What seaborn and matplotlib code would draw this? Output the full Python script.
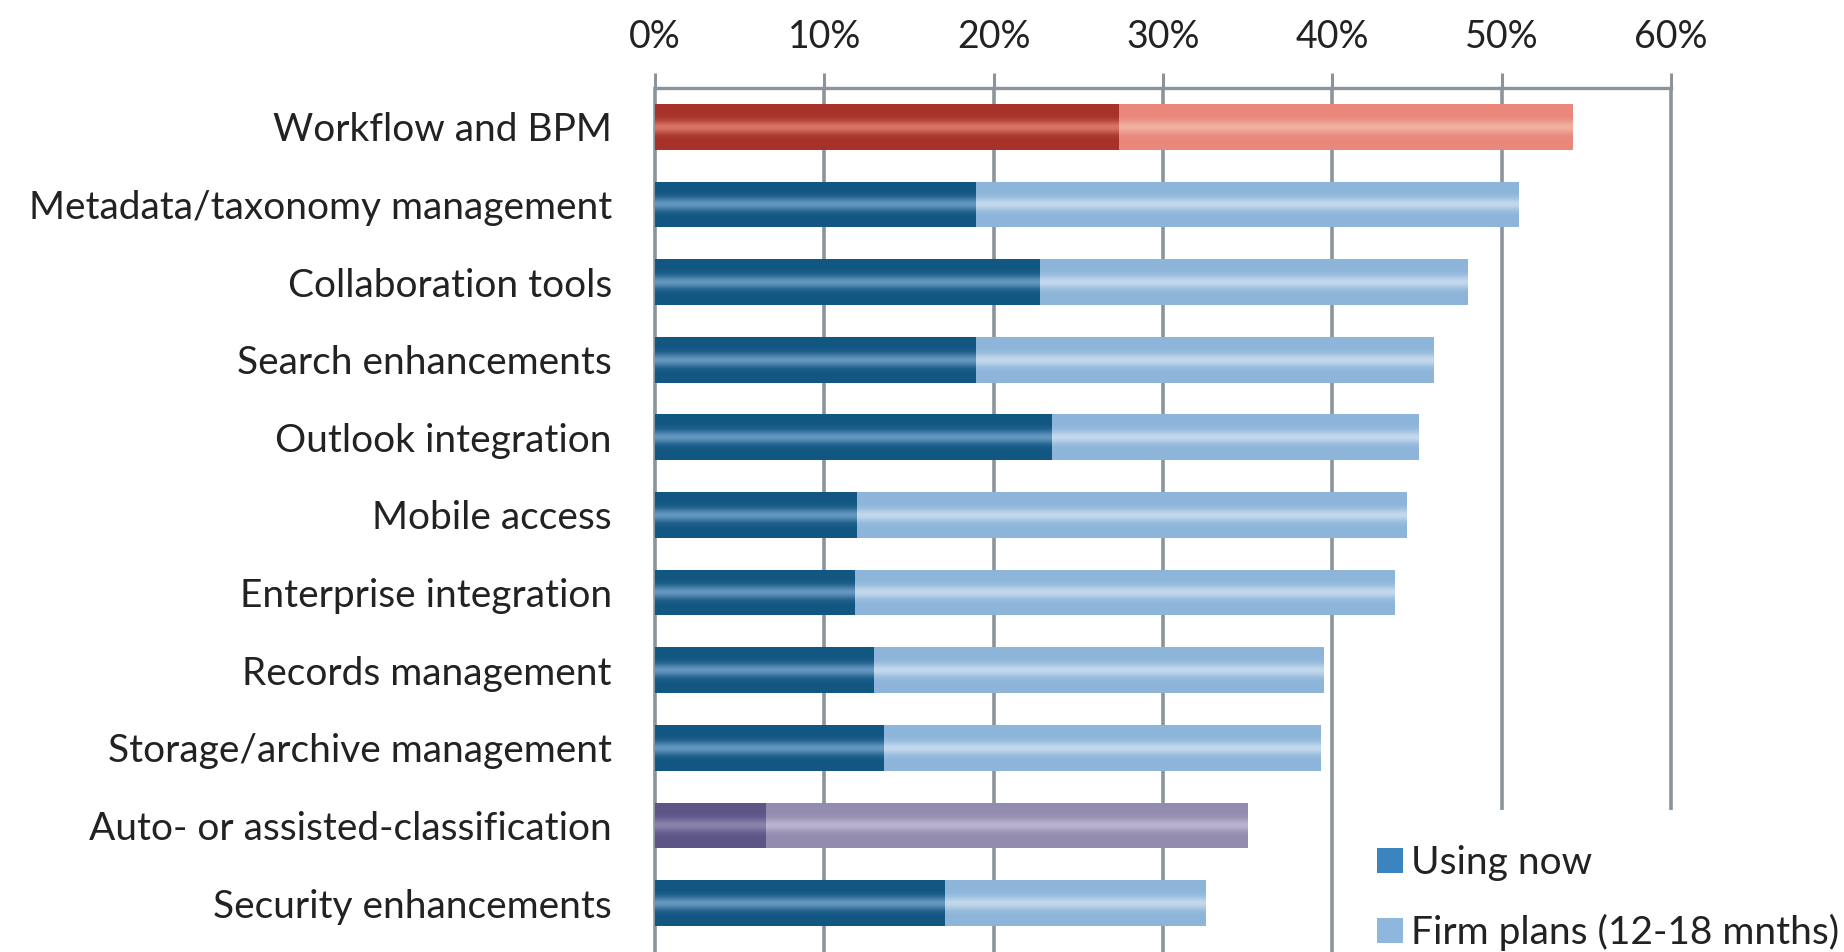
import numpy as np
import pandas as pd
import matplotlib
matplotlib.use('Agg')
import matplotlib.pyplot as plt
from matplotlib.colors import to_rgb
from matplotlib.patches import Patch
import seaborn as sns

# Dados (% de respondentes)
categorias = [
    'Workflow and BPM',
    'Metadata/taxonomy management',
    'Collaboration tools',
    'Search enhancements',
    'Outlook integration',
    'Mobile access',
    'Enterprise integration',
    'Records management',
    'Storage/archive management',
    'Auto- or assisted-classification',
    'Security enhancements',
]
usando_agora = [27.4, 18.9, 22.7, 18.9, 23.4, 11.9, 11.8, 12.9, 13.5, 6.5, 17.1]
planos_firmes = [26.8, 32.1, 25.3, 27.1, 21.7, 32.5, 31.9, 26.6, 25.8, 28.5, 15.4]
ticks_x = [0, 10, 20, 30, 40, 50, 60]
legenda = ['Using now', 'Firm plans (12-18 mnths)']

# Cores (base, brilho) por família de barra
RED_DARK, RED_DARK_HI = '#a6322a', '#e07a6c'
RED_LIGHT, RED_LIGHT_HI = '#e8877a', '#f2b4a4'
BLUE_DARK, BLUE_DARK_HI = '#125782', '#6e9ec7'
BLUE_LIGHT, BLUE_LIGHT_HI = '#8db5da', '#c8dcee'
PURP_DARK, PURP_DARK_HI = '#5e5587', '#8f88b0'
PURP_LIGHT, PURP_LIGHT_HI = '#948cae', '#beb8d3'

def cores_linha(cat):
    if cat == 'Workflow and BPM':
        return (RED_DARK, RED_DARK_HI), (RED_LIGHT, RED_LIGHT_HI)
    if cat.startswith('Auto-'):
        return (PURP_DARK, PURP_DARK_HI), (PURP_LIGHT, PURP_LIGHT_HI)
    return (BLUE_DARK, BLUE_DARK_HI), (BLUE_LIGHT, BLUE_LIGHT_HI)

GRID = '#8b939b'
TEXT = '#222222'
FS = 28

df = pd.DataFrame({'categoria': categorias,
                   'usando': usando_agora,
                   'planos': planos_firmes})
df['total'] = df['usando'] + df['planos']

sns.set_style('white')
plt.rcParams['font.family'] = ['Lato', 'DejaVu Sans']

W, H = 1844, 952
fig = plt.figure(figsize=(W / 100, H / 100), dpi=100)
ax = fig.add_axes([655 / W, 0, (1671 - 655) / W, 1 - 88 / H])

escuras = [cores_linha(c)[0][0] for c in categorias]
claras = [cores_linha(c)[1][0] for c in categorias]

sns.barplot(data=df, y='categoria', x='total', hue='categoria', palette=claras,
            legend=False, width=0.59, ax=ax, linewidth=0, saturation=1)
sns.barplot(data=df, y='categoria', x='usando', hue='categoria', palette=escuras,
            legend=False, width=0.59, ax=ax, linewidth=0, saturation=1)


def brilho(ax, patch, base, hi):
    """Gradiente vertical com faixa clara no centro da barra"""
    t = np.linspace(0, 1, 64)
    f = np.exp(-((t - 0.5) / 0.14) ** 2) * 0.9
    b, h = np.array(to_rgb(base)), np.array(to_rgb(hi))
    img = (b[None, :] * (1 - f[:, None]) + h[None, :] * f[:, None])[:, None, :]
    x0, y0 = patch.get_x(), patch.get_y()
    w, hgt = patch.get_width(), patch.get_height()
    im = ax.imshow(img, extent=(x0, x0 + w, y0 + hgt, y0), aspect='auto',
                   zorder=patch.get_zorder() + 0.01, interpolation='bilinear')
    im.set_clip_path(patch)


n = len(categorias)
patches = list(ax.patches)
for i, cat in enumerate(categorias):
    (dk, dk_hi), (lt, lt_hi) = cores_linha(cat)
    brilho(ax, patches[i], lt, lt_hi)
    brilho(ax, patches[n + i], dk, dk_hi)

ax.set_xlim(0, 60)
ax.set_ylim(10.63, -0.5)
ax.set_xlabel('')
ax.set_ylabel('')

ax.xaxis.tick_top()
ax.set_xticks(ticks_x)
ax.set_xticklabels([f'{v}%' for v in ticks_x])
ax.tick_params(axis='x', which='major', direction='out', length=11, width=2.2,
               color=GRID, pad=13, labelsize=27, labelcolor=TEXT)
ax.tick_params(axis='y', length=0, pad=31, labelsize=FS, labelcolor=TEXT)

ax.grid(axis='x', color=GRID, linewidth=2.6)
ax.grid(axis='y', visible=False)
ax.set_axisbelow(True)
for gl in ax.get_xgridlines():
    gl.set_clip_on(False)

for lado in ['left', 'right', 'bottom']:
    ax.spines[lado].set_visible(False)
ax.spines['top'].set_color(GRID)
ax.spines['top'].set_linewidth(2.4)

handles = [Patch(facecolor='#3a84c0', edgecolor='none'),
           Patch(facecolor='#8fb6dd', edgecolor='none')]
leg = fig.legend(handles, legenda, loc='upper left',
                 bbox_to_anchor=(1342 / W, 1 - 810 / H),
                 frameon=True, facecolor='white', edgecolor='none', framealpha=1,
                 fontsize=FS, handlelength=0.67, handleheight=0.62,
                 handletextpad=0.2, labelspacing=0.85, borderpad=0.9,
                 borderaxespad=0, fancybox=False)
for t in leg.get_texts():
    t.set_color(TEXT)

fig.savefig('out.png', dpi=100)
